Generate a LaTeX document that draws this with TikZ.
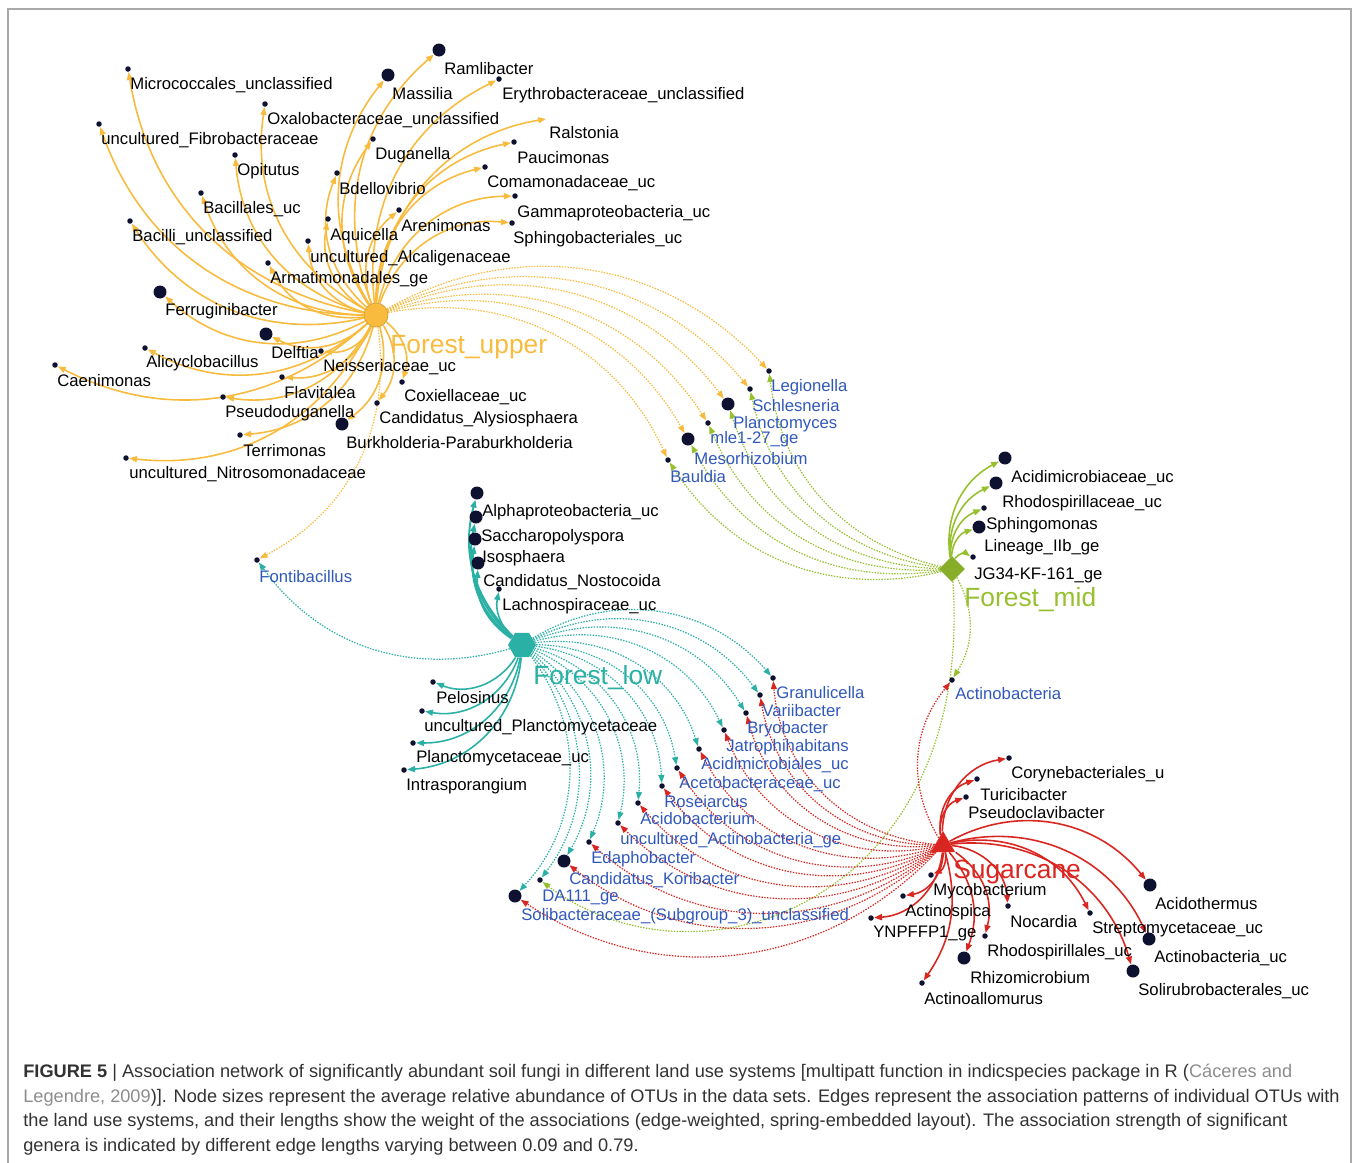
\documentclass[tikz,border=0pt]{standalone}
\usepackage{fontspec}
\setmainfont{Liberation Sans}
\usetikzlibrary{shapes.geometric, arrows.meta, backgrounds}

\definecolor{upc}{RGB}{248,187,62}
\definecolor{midc}{RGB}{150,192,46}
\definecolor{lowc}{RGB}{42,176,164}
\definecolor{sugc}{RGB}{218,38,32}
\definecolor{sharedc}{RGB}{48,88,188}
\definecolor{dotc}{RGB}{14,18,48}
\definecolor{framec}{RGB}{170,170,170}
\definecolor{capc}{RGB}{50,50,50}
\definecolor{citec}{RGB}{140,140,140}

\begin{document}
\begin{tikzpicture}[x=0.02cm, y=0.02cm,
    sdot/.style={circle, fill=dotc, inner sep=0pt, minimum size=0.11cm},
    bdot/.style={circle, fill=dotc, inner sep=0pt, minimum size=0.26cm},
    lab/.style={right, inner sep=0pt, text=black, font=\fontsize{9.5}{11}\selectfont},
    slab/.style={lab, text=sharedc},
    hublab/.style={right, inner sep=0pt, font=\fontsize{15}{17}\selectfont},
    captxt/.style={right, inner sep=0pt, text=capc, font=\fontsize{10.35}{12}\selectfont},
    edgetip/.style={-{Triangle[length=4.5pt, width=3.4pt]}},
    solidedge/.style={edgetip, line width=0.9pt},
    dotedge/.style={edgetip, line width=0.7pt, dash pattern=on 0.8pt off 0.8pt},
    upe/.style={solidedge, upc}, upd/.style={dotedge, upc},
    mide/.style={solidedge, midc}, midd/.style={dotedge, midc},
    lowe/.style={solidedge, lowc}, lowd/.style={dotedge, lowc},
    suge/.style={solidedge, sugc}, sugd/.style={dotedge, sugc}]
    \useasboundingbox (0,0) rectangle (1357,-1163);
    \draw[framec, line width=0.8pt] (8,-1163) -- (8,-9) -- (1351,-9) -- (1351,-1163);

    % hubs
    \node[circle, fill=upc, draw=upc!85!black, minimum size=0.48cm, inner sep=0pt] (up) at (376,-315) {};
    \node[hublab, text=upc] (up-t) at (390,-347) {Forest\_upper};
    \node[diamond, fill=midc!90!black, minimum size=0.52cm, inner sep=0pt] (mid) at (952,-569) {};
    \node[hublab, text=midc] (mid-t) at (964,-600) {Forest\_mid};
    \node[regular polygon, regular polygon sides=6, fill=lowc, minimum size=0.56cm, inner sep=0pt] (low) at (522,-645) {};
    \node[hublab, text=lowc] (low-t) at (533,-678) {Forest\_low};
    \node[regular polygon, regular polygon sides=3, fill=sugc, minimum size=0.56cm, inner sep=0pt] (sug) at (943,-845) {};
    \node[hublab, text=sugc] (sug-t) at (953,-872) {Sugarcane};

    % Forest_upper genera
    \node[sdot] (mic) at (128,-69) {};
    \node[lab] (mic-t) at (130,-85) {Micrococcales\_unclassified};
    \node[sdot] (oxa) at (265,-104) {};
    \node[lab] (oxa-t) at (267,-120) {Oxalobacteraceae\_unclassified};
    \node[sdot] (fib) at (99,-124) {};
    \node[lab] (fib-t) at (101,-140) {uncultured\_Fibrobacteraceae};
    \node[sdot] (opi) at (235,-155) {};
    \node[lab] (opi-t) at (237,-171) {Opitutus};
    \node[sdot] (bcl) at (201,-193) {};
    \node[lab] (bcl-t) at (203,-209) {Bacillales\_uc};
    \node[sdot] (bci) at (130,-221) {};
    \node[lab] (bci-t) at (132,-237) {Bacilli\_unclassified};
    \node[sdot] (arm) at (268,-263) {};
    \node[lab] (arm-t) at (270,-279) {Armatimonadales\_ge};
    \node[sdot] (alc) at (308,-241) {};
    \node[lab] (alc-t) at (310,-258) {uncultured\_Alcaligenaceae};
    \node[sdot] (aqu) at (328,-219) {};
    \node[lab] (aqu-t) at (330,-236) {Aquicella};
    \node[sdot] (bde) at (337,-173) {};
    \node[lab] (bde-t) at (339,-189) {Bdellovibrio};
    \node[sdot] (dug) at (373,-139) {};
    \node[lab] (dug-t) at (375,-155) {Duganella};
    \node[sdot] (are) at (399,-210) {};
    \node[lab] (are-t) at (401,-226) {Arenimonas};
    \node[bdot] (mas) at (388,-75) {};
    \node[lab] (mas-t) at (392,-94) {Massilia};
    \node[bdot] (ram) at (439,-50) {};
    \node[lab] (ram-t) at (444,-69) {Ramlibacter};
    \node[sdot] (ery) at (499,-79) {};
    \node[lab] (ery-t) at (502,-95) {Erythrobacteraceae\_unclassified};
    \coordinate (ral) at (546,-119);
    \node[lab] (ral-t) at (549,-133) {Ralstonia};
    \node[sdot] (pau) at (514,-142) {};
    \node[lab] (pau-t) at (517,-158) {Paucimonas};
    \node[sdot] (com) at (485,-167) {};
    \node[lab] (com-t) at (487,-183) {Comamonadaceae\_uc};
    \node[sdot] (gam) at (515,-196) {};
    \node[lab] (gam-t) at (517,-213) {Gammaproteobacteria\_uc};
    \node[sdot] (sph) at (512,-223) {};
    \node[lab] (sph-t) at (513,-239) {Sphingobacteriales\_uc};
    \node[bdot] (fer) at (160,-292) {};
    \node[lab] (fer-t) at (165,-311) {Ferruginibacter};
    \node[bdot] (del) at (266,-334) {};
    \node[lab] (del-t) at (271,-353) {Delftia};
    \node[sdot] (nei) at (321,-351) {};
    \node[lab] (nei-t) at (323,-367) {Neisseriaceae\_uc};
    \node[sdot] (ali) at (145,-348) {};
    \node[lab] (ali-t) at (146,-363) {Alicyclobacillus};
    \node[sdot] (cae) at (55,-365) {};
    \node[lab] (cae-t) at (57,-381) {Caenimonas};
    \node[sdot] (fla) at (282,-377) {};
    \node[lab] (fla-t) at (284,-393) {Flavitalea};
    \node[sdot] (pse) at (223,-397) {};
    \node[lab] (pse-t) at (225,-413) {Pseudoduganella};
    \node[bdot] (bur) at (342,-424) {};
    \node[lab] (bur-t) at (346,-443) {Burkholderia-Paraburkholderia};
    \node[sdot] (ter) at (240,-435) {};
    \node[lab] (ter-t) at (243,-451) {Terrimonas};
    \node[sdot] (nit) at (126,-458) {};
    \node[lab] (nit-t) at (129,-474) {uncultured\_Nitrosomonadaceae};
    \node[sdot] (cox) at (402,-382) {};
    \node[lab] (cox-t) at (404,-397) {Coxiellaceae\_uc};
    \node[sdot] (cal) at (377,-403) {};
    \node[lab] (cal-t) at (379,-419) {Candidatus\_Alysiosphaera};

    % shared by Forest_upper and Forest_mid
    \node[sdot] (leg) at (769,-371) {};
    \node[slab] (leg-t) at (771,-387) {Legionella};
    \node[sdot] (sch) at (750,-389) {};
    \node[slab] (sch-t) at (752,-406) {Schlesneria};
    \node[bdot] (pla) at (728,-404) {};
    \node[slab] (pla-t) at (733,-424) {Planctomyces};
    \node[sdot] (mle) at (708,-423) {};
    \node[slab] (mle-t) at (710,-439) {mle1-27\_ge};
    \node[bdot] (mes) at (688,-439) {};
    \node[slab] (mes-t) at (694,-459) {Mesorhizobium};
    \node[sdot] (bau) at (668,-460) {};
    \node[slab] (bau-t) at (670,-477) {Bauldia};
    \node[sdot] (fon) at (257,-560) {};
    \node[slab] (fon-t) at (259,-577) {Fontibacillus};
    \node[sdot] (act) at (952,-680) {};
    \node[slab] (act-t) at (955,-694) {Actinobacteria};

    % Forest_mid genera
    \node[bdot] (aci) at (1005,-458) {};
    \node[lab] (aci-t) at (1011,-478) {Acidimicrobiaceae\_uc};
    \node[bdot] (rhd) at (996,-483) {};
    \node[lab] (rhd-t) at (1002,-503) {Rhodospirillaceae\_uc};
    \node[sdot] (spm) at (984,-508) {};
    \node[lab] (spm-t) at (986,-525) {Sphingomonas};
    \node[bdot] (lin) at (979,-527) {};
    \node[lab] (lin-t) at (984,-547) {Lineage\_IIb\_ge};
    \node[sdot] (jg) at (973,-557) {};
    \node[lab] (jg-t) at (974,-575) {JG34-KF-161\_ge};

    % Forest_low genera
    \node[bdot] (alp) at (477,-493) {};
    \node[lab] (alp-t) at (482,-512) {Alphaproteobacteria\_uc};
    \node[bdot] (sac) at (476,-517) {};
    \node[lab] (sac-t) at (481,-537) {Saccharopolyspora};
    \node[bdot] (iso) at (475,-539) {};
    \node[lab] (iso-t) at (482,-558) {Isosphaera};
    \node[bdot] (nos) at (478,-563) {};
    \node[lab] (nos-t) at (483,-582) {Candidatus\_Nostocoida};
    \node[sdot] (lac) at (499,-589) {};
    \node[lab] (lac-t) at (502,-606) {Lachnospiraceae\_uc};
    \node[sdot] (pel) at (433,-682) {};
    \node[lab] (pel-t) at (436,-698) {Pelosinus};
    \node[sdot] (upl) at (422,-711) {};
    \node[lab] (upl-t) at (424,-727) {uncultured\_Planctomycetaceae};
    \node[sdot] (plc) at (413,-743) {};
    \node[lab] (plc-t) at (416,-758) {Planctomycetaceae\_uc};
    \node[sdot] (int) at (404,-770) {};
    \node[lab] (int-t) at (406,-786) {Intrasporangium};

    % shared by Forest_low and Sugarcane
    \node[sdot] (gra) at (773,-678) {};
    \node[slab] (gra-t) at (776,-693) {Granulicella};
    \node[sdot] (var) at (760,-695) {};
    \node[slab] (var-t) at (762,-711) {Variibacter};
    \node[sdot] (bry) at (746,-713) {};
    \node[slab] (bry-t) at (747,-729) {Bryobacter};
    \node[sdot] (jat) at (724,-730) {};
    \node[slab] (jat-t) at (726,-747) {Jatrophihabitans};
    \node[sdot] (acm) at (699,-749) {};
    \node[slab] (acm-t) at (701,-765) {Acidimicrobiales\_uc};
    \node[sdot] (ace) at (677,-768) {};
    \node[slab] (ace-t) at (679,-784) {Acetobacteraceae\_uc};
    \node[sdot] (ros) at (662,-786) {};
    \node[slab] (ros-t) at (664,-802) {Roseiarcus};
    \node[sdot] (acb) at (638,-803) {};
    \node[slab] (acb-t) at (640,-819) {Acidobacterium};
    \node[sdot] (uac) at (618,-823) {};
    \node[slab] (uac-t) at (620,-840) {uncultured\_Actinobacteria\_ge};
    \node[sdot] (eda) at (589,-842) {};
    \node[slab] (eda-t) at (591,-859) {Edaphobacter};
    \node[bdot] (kor) at (564,-861) {};
    \node[slab] (kor-t) at (569,-880) {Candidatus\_Koribacter};
    \node[sdot] (da) at (540,-880) {};
    \node[slab] (da-t) at (542,-897) {DA111\_ge};
    \node[bdot] (sol) at (515,-896) {};
    \node[slab] (sol-t) at (521,-916) {Solibacteraceae\_(Subgroup\_3)\_unclassified};

    % Sugarcane genera
    \node[sdot] (cor) at (1009,-758) {};
    \node[lab] (cor-t) at (1011,-774) {Corynebacteriales\_u};
    \node[sdot] (tur) at (977,-779) {};
    \node[lab] (tur-t) at (980,-795) {Turicibacter};
    \node[sdot] (psc) at (966,-797) {};
    \node[lab] (psc-t) at (968,-813) {Pseudoclavibacter};
    \node[bdot] (acd) at (1150,-885) {};
    \node[lab] (acd-t) at (1155,-904) {Acidothermus};
    \node[sdot] (str) at (1090,-913) {};
    \node[lab] (str-t) at (1092,-929) {Streptomycetaceae\_uc};
    \node[bdot] (acu) at (1149,-939) {};
    \node[lab] (acu-t) at (1154,-958) {Actinobacteria\_uc};
    \node[bdot] (sru) at (1133,-971) {};
    \node[lab] (sru-t) at (1138,-991) {Solirubrobacterales\_uc};
    \node[sdot] (noc) at (1008,-906) {};
    \node[lab] (noc-t) at (1010,-922) {Nocardia};
    \node[sdot] (rhs) at (985,-936) {};
    \node[lab] (rhs-t) at (987,-952) {Rhodospirillales\_uc};
    \node[bdot] (rhz) at (964,-958) {};
    \node[lab] (rhz-t) at (970,-978) {Rhizomicrobium};
    \node[sdot] (aca) at (922,-983) {};
    \node[lab] (aca-t) at (924,-999) {Actinoallomurus};
    \node[sdot] (myc) at (931,-875) {};
    \node[lab] (myc-t) at (933,-891) {Mycobacterium};
    \node[sdot] (asp) at (903,-896) {};
    \node[lab] (asp-t) at (905,-912) {Actinospica};
    \node[sdot] (ynp) at (871,-918) {};
    \node[lab] (ynp-t) at (873,-933) {YNPFFP1\_ge};

    \begin{pgfonlayer}{background}
    % dotted links of shared genera
    \draw[upd] (up) to[bend left=38] (leg);
    \draw[upd] (up) to[bend left=38] (sch);
    \draw[upd] (up) to[bend left=38] (pla);
    \draw[upd] (up) to[bend left=38] (mle);
    \draw[upd] (up) to[bend left=38] (mes);
    \draw[upd] (up) to[bend left=38] (bau);
    \draw[upd] (up) to[bend left=35] (fon);
    \draw[midd] (mid) to[bend left=35] (leg);
    \draw[midd] (mid) to[bend left=35] (sch);
    \draw[midd] (mid) to[bend left=35] (pla);
    \draw[midd] (mid) to[bend left=35] (mle);
    \draw[midd] (mid) to[bend left=35] (mes);
    \draw[midd] (mid) to[bend left=35] (bau);
    \draw[midd] (mid) to[bend left=30] (act);
    \draw[midd] (mid) .. controls (975,-900) and (700,-1000) .. (da);
    \draw[lowd] (low) to[bend left=35] (fon);
    \draw[lowd] (low) to[bend left=40] (gra);
    \draw[lowd] (low) to[bend left=40] (var);
    \draw[lowd] (low) to[bend left=40] (bry);
    \draw[lowd] (low) to[bend left=40] (jat);
    \draw[lowd] (low) to[bend left=40] (acm);
    \draw[lowd] (low) to[bend left=40] (ace);
    \draw[lowd] (low) to[bend left=40] (ros);
    \draw[lowd] (low) to[bend left=40] (acb);
    \draw[lowd] (low) to[bend left=40] (uac);
    \draw[lowd] (low) to[bend left=40] (eda);
    \draw[lowd] (low) to[bend left=40] (kor);
    \draw[lowd] (low) to[bend left=40] (da);
    \draw[lowd] (low) to[bend left=40] (sol);
    \draw[sugd] (sug) to[bend left=40] (gra);
    \draw[sugd] (sug) to[bend left=40] (var);
    \draw[sugd] (sug) to[bend left=40] (bry);
    \draw[sugd] (sug) to[bend left=40] (jat);
    \draw[sugd] (sug) to[bend left=40] (acm);
    \draw[sugd] (sug) to[bend left=40] (ace);
    \draw[sugd] (sug) to[bend left=40] (ros);
    \draw[sugd] (sug) to[bend left=40] (acb);
    \draw[sugd] (sug) to[bend left=40] (uac);
    \draw[sugd] (sug) to[bend left=40] (eda);
    \draw[sugd] (sug) to[bend left=40] (kor);
    \draw[sugd] (sug) to[bend left=40] (sol);
    \draw[sugd] (sug) to[bend left=35] (act);

    % Forest_upper links
    \draw[upe] (up) to[bend left=35] (mic);
    \draw[upe] (up) to[bend left=35] (oxa);
    \draw[upe] (up) to[bend left=35] (fib);
    \draw[upe] (up) to[bend left=35] (opi);
    \draw[upe] (up) to[bend left=35] (bcl);
    \draw[upe] (up) to[bend left=35] (bci);
    \draw[upe] (up) to[bend left=35] (arm);
    \draw[upe] (up) to[bend left=35] (alc);
    \draw[upe] (up) to[bend left=35] (aqu);
    \draw[upe] (up) to[bend left=35] (bde);
    \draw[upe] (up) to[bend left=35] (dug);
    \draw[upe] (up) to[bend left=35] (are);
    \draw[upe] (up) to[bend left=35] (mas);
    \draw[upe] (up) to[bend left=35] (ram);
    \draw[upe] (up) to[bend left=35] (ery);
    \draw[upe] (up) to[bend left=38] (ral);
    \draw[upe] (up) to[bend left=38] (pau);
    \draw[upe] (up) to[bend left=38] (com);
    \draw[upe] (up) to[bend left=38] (gam);
    \draw[upe] (up) to[bend left=38] (sph);
    \draw[upe] (up) to[bend left=35] (fer);
    \draw[upe] (up) to[bend left=35] (del);
    \draw[upe] (up) to[bend left=35] (nei);
    \draw[upe] (up) to[bend left=35] (ali);
    \draw[upe] (up) to[bend left=35] (cae);
    \draw[upe] (up) to[bend left=35] (fla);
    \draw[upe] (up) to[bend left=35] (pse);
    \draw[upe] (up) to[bend left=35] (bur);
    \draw[upe] (up) to[bend left=35] (ter);
    \draw[upe] (up) to[bend left=35] (nit);
    \draw[upe] (up) to[bend left=35] (cox);
    \draw[upe] (up) to[bend left=35] (cal);

    % Forest_mid links
    \draw[mide] (mid) to[bend left=35] (aci);
    \draw[mide] (mid) to[bend left=35] (rhd);
    \draw[mide] (mid) to[bend left=35] (spm);
    \draw[mide] (mid) to[bend left=35] (lin);
    \draw[mide] (mid) to[bend left=45] (jg);

    % Forest_low links
    \draw[lowe, line width=1.1pt] (low) to[bend left=30] (alp);
    \draw[lowe, line width=1.1pt] (low) to[bend left=30] (sac);
    \draw[lowe, line width=1.1pt] (low) to[bend left=30] (iso);
    \draw[lowe, line width=1.1pt] (low) to[bend left=30] (nos);
    \draw[lowe] (low) to[bend left=28] (lac);
    \draw[lowe] (low) to[bend left=40] (pel);
    \draw[lowe] (low) to[bend left=40] (upl);
    \draw[lowe] (low) to[bend left=40] (plc);
    \draw[lowe] (low) to[bend left=40] (int);

    % Sugarcane links
    \draw[suge] (sug) to[bend left=40] (cor);
    \draw[suge] (sug) to[bend left=40] (tur);
    \draw[suge] (sug) to[bend left=40] (psc);
    \draw[suge] (sug) to[bend left=40] (acd);
    \draw[suge] (sug) to[bend left=38] (str);
    \draw[suge] (sug) to[bend left=40] (acu);
    \draw[suge] (sug) to[bend left=40] (sru);
    \draw[suge] (sug) to[bend left=40] (noc);
    \draw[suge] (sug) to[bend left=35] (rhs);
    \draw[suge] (sug) to[bend left=30] (rhz);
    \draw[suge] (sug) to[bend left=25] (aca);
    \draw[suge] (sug) to[bend left=40] (myc);
    \draw[suge] (sug) to[bend left=40] (asp);
    \draw[suge] (sug) to[bend left=40] (ynp);
    \end{pgfonlayer}

    % caption
    \node[captxt] (cap1) at (23,-1073) {\textbf{FIGURE 5} \textbar{} Association network of significantly abundant soil fungi in different land use systems [multipatt function in indicspecies package in R ({\color{citec}Cáceres and}};
    \node[captxt] (cap2) at (23,-1098) {{\color{citec}Legendre, 2009})]. Node sizes represent the average relative abundance of OTUs in the data sets. Edges represent the association patterns of individual OTUs with};
    \node[captxt] (cap3) at (23,-1122) {the land use systems, and their lengths show the weight of the associations (edge-weighted, spring-embedded layout). The association strength of significant};
    \node[captxt] (cap4) at (23,-1147) {genera is indicated by different edge lengths varying between 0.09 and 0.79.};
\end{tikzpicture}
\end{document}
